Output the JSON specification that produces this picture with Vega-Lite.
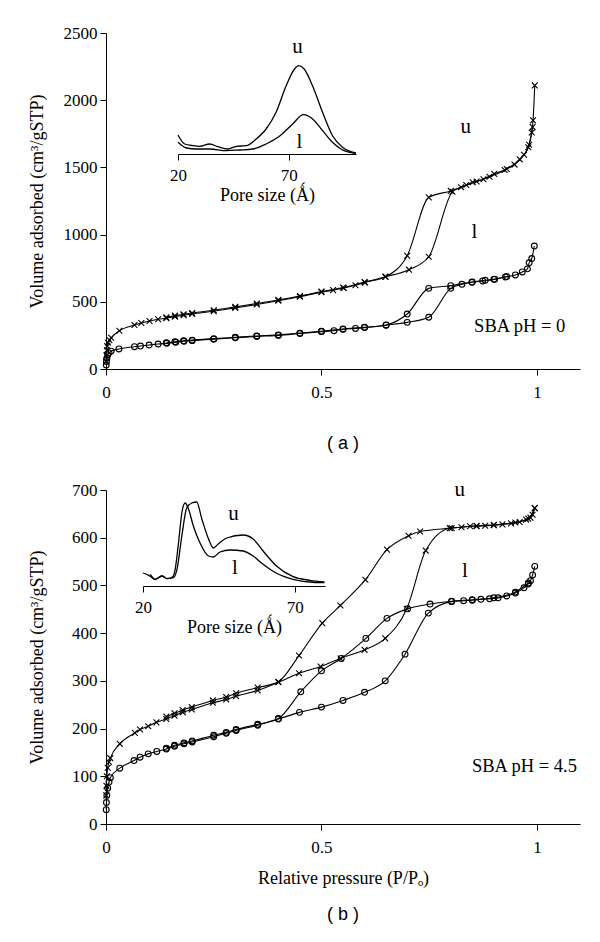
{
"$schema": "https://vega.github.io/schema/vega-lite/v6.json",
"background": "white",
"padding": {"left": 28, "top": 24, "right": 10, "bottom": 10},
"config": {
  "view": {"stroke": null},
  "font": "Liberation Serif",
  "axis": {"labelFont": "Liberation Serif", "labelFontSize": 17, "labelColor": "black", "titleFont": "Liberation Serif", "titleFontSize": 18, "titleFontWeight": "normal", "titleColor": "black", "domainColor": "black", "tickColor": "black", "grid": false, "tickSize": 6, "labelFlush": false, "labelPadding": 3}
},
"datasets": {
  "a_main": [
    {"s":"u","b":"ads","p":0.0005,"v":55},{"s":"u","b":"ads","p":0.001,"v":100},{"s":"u","b":"ads","p":0.002,"v":140},{"s":"u","b":"ads","p":0.003,"v":170},{"s":"u","b":"ads","p":0.005,"v":195},{"s":"u","b":"ads","p":0.008,"v":215},{"s":"u","b":"ads","p":0.012,"v":232},{"s":"u","b":"ads","p":0.031,"v":285},{"s":"u","b":"ads","p":0.066,"v":327},{"s":"u","b":"ads","p":0.082,"v":342},{"s":"u","b":"ads","p":0.101,"v":357},{"s":"u","b":"ads","p":0.121,"v":370},{"s":"u","b":"ads","p":0.14,"v":378},{"s":"u","b":"ads","p":0.16,"v":390},{"s":"u","b":"ads","p":0.18,"v":400},{"s":"u","b":"ads","p":0.2,"v":410},{"s":"u","b":"ads","p":0.25,"v":430},{"s":"u","b":"ads","p":0.3,"v":455},{"s":"u","b":"ads","p":0.35,"v":480},{"s":"u","b":"ads","p":0.4,"v":508},{"s":"u","b":"ads","p":0.45,"v":538},{"s":"u","b":"ads","p":0.5,"v":572},{"s":"u","b":"ads","p":0.527,"v":587},{"s":"u","b":"ads","p":0.552,"v":603},{"s":"u","b":"ads","p":0.579,"v":623},{"s":"u","b":"ads","p":0.601,"v":643},{"s":"u","b":"ads","p":0.648,"v":686},{"s":"u","b":"ads","p":0.703,"v":739},{"s":"u","b":"ads","p":0.749,"v":835},{"s":"u","b":"ads","p":0.804,"v":1319},{"s":"u","b":"ads","p":0.824,"v":1352},{"s":"u","b":"ads","p":0.836,"v":1369},{"s":"u","b":"ads","p":0.851,"v":1389},{"s":"u","b":"ads","p":0.876,"v":1412},{"s":"u","b":"ads","p":0.901,"v":1452},{"s":"u","b":"ads","p":0.925,"v":1481},{"s":"u","b":"ads","p":0.948,"v":1521},{"s":"u","b":"ads","p":0.97,"v":1594},{"s":"u","b":"ads","p":0.982,"v":1668},{"s":"u","b":"ads","p":0.988,"v":1760},{"s":"u","b":"ads","p":0.991,"v":1850},{"s":"u","b":"ads","p":0.995,"v":2110},
    {"s":"u","b":"des","p":0.14,"v":384},{"s":"u","b":"des","p":0.16,"v":397},{"s":"u","b":"des","p":0.18,"v":407},{"s":"u","b":"des","p":0.2,"v":417},{"s":"u","b":"des","p":0.25,"v":437},{"s":"u","b":"des","p":0.3,"v":462},{"s":"u","b":"des","p":0.35,"v":487},{"s":"u","b":"des","p":0.4,"v":514},{"s":"u","b":"des","p":0.45,"v":543},{"s":"u","b":"des","p":0.5,"v":576},{"s":"u","b":"des","p":0.55,"v":606},{"s":"u","b":"des","p":0.6,"v":647},{"s":"u","b":"des","p":0.649,"v":687},{"s":"u","b":"des","p":0.699,"v":843},{"s":"u","b":"des","p":0.749,"v":1277},{"s":"u","b":"des","p":0.8,"v":1325},{"s":"u","b":"des","p":0.86,"v":1395},{"s":"u","b":"des","p":0.89,"v":1430},{"s":"u","b":"des","p":0.93,"v":1488},{"s":"u","b":"des","p":0.96,"v":1560},{"s":"u","b":"des","p":0.98,"v":1650},{"s":"u","b":"des","p":0.99,"v":1800},
    {"s":"l","b":"ads","p":0.0005,"v":30},{"s":"l","b":"ads","p":0.001,"v":55},{"s":"l","b":"ads","p":0.002,"v":80},{"s":"l","b":"ads","p":0.004,"v":105},{"s":"l","b":"ads","p":0.007,"v":120},{"s":"l","b":"ads","p":0.012,"v":133},{"s":"l","b":"ads","p":0.03,"v":149},{"s":"l","b":"ads","p":0.066,"v":166},{"s":"l","b":"ads","p":0.08,"v":171},{"s":"l","b":"ads","p":0.1,"v":178},{"s":"l","b":"ads","p":0.121,"v":186},{"s":"l","b":"ads","p":0.141,"v":191},{"s":"l","b":"ads","p":0.162,"v":199},{"s":"l","b":"ads","p":0.181,"v":206},{"s":"l","b":"ads","p":0.2,"v":211},{"s":"l","b":"ads","p":0.25,"v":222},{"s":"l","b":"ads","p":0.3,"v":232},{"s":"l","b":"ads","p":0.35,"v":242},{"s":"l","b":"ads","p":0.4,"v":250},{"s":"l","b":"ads","p":0.45,"v":264},{"s":"l","b":"ads","p":0.5,"v":278},{"s":"l","b":"ads","p":0.529,"v":285},{"s":"l","b":"ads","p":0.55,"v":295},{"s":"l","b":"ads","p":0.579,"v":302},{"s":"l","b":"ads","p":0.6,"v":308},{"s":"l","b":"ads","p":0.65,"v":326},{"s":"l","b":"ads","p":0.699,"v":347},{"s":"l","b":"ads","p":0.749,"v":385},{"s":"l","b":"ads","p":0.8,"v":600},{"s":"l","b":"ads","p":0.826,"v":630},{"s":"l","b":"ads","p":0.849,"v":645},{"s":"l","b":"ads","p":0.874,"v":655},{"s":"l","b":"ads","p":0.902,"v":668},{"s":"l","b":"ads","p":0.927,"v":685},{"s":"l","b":"ads","p":0.95,"v":700},{"s":"l","b":"ads","p":0.966,"v":722},{"s":"l","b":"ads","p":0.978,"v":745},{"s":"l","b":"ads","p":0.982,"v":790},{"s":"l","b":"ads","p":0.988,"v":822},{"s":"l","b":"ads","p":0.994,"v":915},
    {"s":"l","b":"des","p":0.14,"v":195},{"s":"l","b":"des","p":0.16,"v":203},{"s":"l","b":"des","p":0.18,"v":210},{"s":"l","b":"des","p":0.2,"v":215},{"s":"l","b":"des","p":0.25,"v":226},{"s":"l","b":"des","p":0.3,"v":236},{"s":"l","b":"des","p":0.35,"v":246},{"s":"l","b":"des","p":0.4,"v":254},{"s":"l","b":"des","p":0.45,"v":267},{"s":"l","b":"des","p":0.5,"v":281},{"s":"l","b":"des","p":0.55,"v":298},{"s":"l","b":"des","p":0.6,"v":311},{"s":"l","b":"des","p":0.65,"v":328},{"s":"l","b":"des","p":0.699,"v":409},{"s":"l","b":"des","p":0.749,"v":600},{"s":"l","b":"des","p":0.8,"v":620},{"s":"l","b":"des","p":0.85,"v":647},{"s":"l","b":"des","p":0.88,"v":660},{"s":"l","b":"des","p":0.9,"v":667},{"s":"l","b":"des","p":0.93,"v":688}
  ],
  "b_main": [
    {"s":"u","b":"ads","p":0.0005,"v":60},{"s":"u","b":"ads","p":0.001,"v":80},{"s":"u","b":"ads","p":0.002,"v":100},{"s":"u","b":"ads","p":0.004,"v":118},{"s":"u","b":"ads","p":0.007,"v":130},{"s":"u","b":"ads","p":0.01,"v":138},{"s":"u","b":"ads","p":0.032,"v":168},{"s":"u","b":"ads","p":0.067,"v":191},{"s":"u","b":"ads","p":0.079,"v":198},{"s":"u","b":"ads","p":0.098,"v":205},{"s":"u","b":"ads","p":0.117,"v":213},{"s":"u","b":"ads","p":0.14,"v":220},{"s":"u","b":"ads","p":0.159,"v":227},{"s":"u","b":"ads","p":0.178,"v":234},{"s":"u","b":"ads","p":0.199,"v":240},{"s":"u","b":"ads","p":0.248,"v":254},{"s":"u","b":"ads","p":0.279,"v":261},{"s":"u","b":"ads","p":0.302,"v":268},{"s":"u","b":"ads","p":0.352,"v":280},{"s":"u","b":"ads","p":0.4,"v":297},{"s":"u","b":"ads","p":0.448,"v":316},{"s":"u","b":"ads","p":0.498,"v":330},{"s":"u","b":"ads","p":0.544,"v":347},{"s":"u","b":"ads","p":0.6,"v":365},{"s":"u","b":"ads","p":0.648,"v":389},{"s":"u","b":"ads","p":0.698,"v":451},{"s":"u","b":"ads","p":0.742,"v":573},{"s":"u","b":"ads","p":0.798,"v":620},{"s":"u","b":"ads","p":0.825,"v":622},{"s":"u","b":"ads","p":0.845,"v":624},{"s":"u","b":"ads","p":0.86,"v":624},{"s":"u","b":"ads","p":0.88,"v":625},{"s":"u","b":"ads","p":0.9,"v":626},{"s":"u","b":"ads","p":0.92,"v":628},{"s":"u","b":"ads","p":0.94,"v":630},{"s":"u","b":"ads","p":0.96,"v":633},{"s":"u","b":"ads","p":0.975,"v":638},{"s":"u","b":"ads","p":0.985,"v":642},{"s":"u","b":"ads","p":0.99,"v":648},{"s":"u","b":"ads","p":0.995,"v":662},
    {"s":"u","b":"des","p":0.14,"v":225},{"s":"u","b":"des","p":0.159,"v":232},{"s":"u","b":"des","p":0.178,"v":239},{"s":"u","b":"des","p":0.199,"v":245},{"s":"u","b":"des","p":0.248,"v":259},{"s":"u","b":"des","p":0.279,"v":266},{"s":"u","b":"des","p":0.302,"v":274},{"s":"u","b":"des","p":0.352,"v":286},{"s":"u","b":"des","p":0.4,"v":298},{"s":"u","b":"des","p":0.448,"v":353},{"s":"u","b":"des","p":0.502,"v":421},{"s":"u","b":"des","p":0.544,"v":458},{"s":"u","b":"des","p":0.602,"v":512},{"s":"u","b":"des","p":0.652,"v":575},{"s":"u","b":"des","p":0.702,"v":604},{"s":"u","b":"des","p":0.729,"v":613},{"s":"u","b":"des","p":0.802,"v":620},{"s":"u","b":"des","p":0.86,"v":625},{"s":"u","b":"des","p":0.9,"v":627},{"s":"u","b":"des","p":0.95,"v":632},{"s":"u","b":"des","p":0.98,"v":640},{"s":"u","b":"des","p":0.995,"v":662},
    {"s":"l","b":"ads","p":0.0005,"v":30},{"s":"l","b":"ads","p":0.001,"v":45},{"s":"l","b":"ads","p":0.002,"v":60},{"s":"l","b":"ads","p":0.004,"v":75},{"s":"l","b":"ads","p":0.007,"v":88},{"s":"l","b":"ads","p":0.01,"v":97},{"s":"l","b":"ads","p":0.032,"v":117},{"s":"l","b":"ads","p":0.065,"v":133},{"s":"l","b":"ads","p":0.079,"v":140},{"s":"l","b":"ads","p":0.098,"v":147},{"s":"l","b":"ads","p":0.118,"v":152},{"s":"l","b":"ads","p":0.14,"v":157},{"s":"l","b":"ads","p":0.159,"v":163},{"s":"l","b":"ads","p":0.181,"v":168},{"s":"l","b":"ads","p":0.2,"v":172},{"s":"l","b":"ads","p":0.25,"v":183},{"s":"l","b":"ads","p":0.279,"v":190},{"s":"l","b":"ads","p":0.302,"v":196},{"s":"l","b":"ads","p":0.352,"v":207},{"s":"l","b":"ads","p":0.4,"v":220},{"s":"l","b":"ads","p":0.449,"v":234},{"s":"l","b":"ads","p":0.5,"v":245},{"s":"l","b":"ads","p":0.55,"v":259},{"s":"l","b":"ads","p":0.6,"v":276},{"s":"l","b":"ads","p":0.648,"v":300},{"s":"l","b":"ads","p":0.694,"v":356},{"s":"l","b":"ads","p":0.748,"v":442},{"s":"l","b":"ads","p":0.802,"v":466},{"s":"l","b":"ads","p":0.83,"v":468},{"s":"l","b":"ads","p":0.85,"v":469},{"s":"l","b":"ads","p":0.87,"v":471},{"s":"l","b":"ads","p":0.89,"v":472},{"s":"l","b":"ads","p":0.91,"v":474},{"s":"l","b":"ads","p":0.93,"v":478},{"s":"l","b":"ads","p":0.95,"v":484},{"s":"l","b":"ads","p":0.97,"v":495},{"s":"l","b":"ads","p":0.98,"v":503},{"s":"l","b":"ads","p":0.985,"v":510},{"s":"l","b":"ads","p":0.99,"v":522},{"s":"l","b":"ads","p":0.995,"v":540},
    {"s":"l","b":"des","p":0.14,"v":159},{"s":"l","b":"des","p":0.159,"v":165},{"s":"l","b":"des","p":0.181,"v":170},{"s":"l","b":"des","p":0.2,"v":174},{"s":"l","b":"des","p":0.25,"v":186},{"s":"l","b":"des","p":0.279,"v":192},{"s":"l","b":"des","p":0.302,"v":198},{"s":"l","b":"des","p":0.352,"v":209},{"s":"l","b":"des","p":0.4,"v":221},{"s":"l","b":"des","p":0.452,"v":277},{"s":"l","b":"des","p":0.5,"v":321},{"s":"l","b":"des","p":0.546,"v":347},{"s":"l","b":"des","p":0.603,"v":389},{"s":"l","b":"des","p":0.652,"v":431},{"s":"l","b":"des","p":0.7,"v":451},{"s":"l","b":"des","p":0.752,"v":461},{"s":"l","b":"des","p":0.802,"v":467},{"s":"l","b":"des","p":0.85,"v":470},{"s":"l","b":"des","p":0.9,"v":474},{"s":"l","b":"des","p":0.95,"v":486},{"s":"l","b":"des","p":0.98,"v":505}
  ],
  "a_inset": [
    {"s":"u","d":20,"h":19},{"s":"u","d":23,"h":10},{"s":"u","d":26.8,"h":8.3},{"s":"u","d":29.8,"h":7.7},{"s":"u","d":34.3,"h":10},{"s":"u","d":38,"h":7.3},{"s":"u","d":42.5,"h":5},{"s":"u","d":46.3,"h":7.7},{"s":"u","d":50.8,"h":8.3},{"s":"u","d":55.3,"h":15},{"s":"u","d":59.8,"h":25},{"s":"u","d":64.3,"h":41.7},{"s":"u","d":68.8,"h":68},{"s":"u","d":72.6,"h":85},{"s":"u","d":74.5,"h":88.3},{"s":"u","d":77,"h":85},{"s":"u","d":80.8,"h":68},{"s":"u","d":85.3,"h":41.7},{"s":"u","d":89.8,"h":18.3},{"s":"u","d":94.3,"h":6.7},{"s":"u","d":100.3,"h":1},
    {"s":"l","d":20,"h":11.7},{"s":"l","d":23.8,"h":6},{"s":"l","d":28.3,"h":5},{"s":"l","d":34.3,"h":5},{"s":"l","d":41.8,"h":3.3},{"s":"l","d":47.8,"h":4},{"s":"l","d":53.8,"h":5},{"s":"l","d":59.8,"h":10},{"s":"l","d":65.8,"h":17.7},{"s":"l","d":71.8,"h":30},{"s":"l","d":76.6,"h":39.3},{"s":"l","d":80.8,"h":35},{"s":"l","d":85.3,"h":23.3},{"s":"l","d":89.8,"h":11.7},{"s":"l","d":95,"h":3.3},{"s":"l","d":100.3,"h":0.7}
  ],
  "b_inset": [
    {"s":"l","d":20,"h":13},{"s":"l","d":21.9,"h":10.7},{"s":"l","d":24,"h":6.7},{"s":"l","d":26.2,"h":10},{"s":"l","d":27.9,"h":7.3},{"s":"l","d":29.8,"h":9.3},{"s":"l","d":30.6,"h":16.7},{"s":"l","d":31.7,"h":43},{"s":"l","d":32.8,"h":73},{"s":"l","d":33.9,"h":83},{"s":"l","d":35,"h":77},{"s":"l","d":36.6,"h":60},{"s":"l","d":38.8,"h":43},{"s":"l","d":41.6,"h":30},{"s":"l","d":43.2,"h":29},{"s":"l","d":45.4,"h":34},{"s":"l","d":48.7,"h":36},{"s":"l","d":53,"h":35},{"s":"l","d":56.3,"h":30},{"s":"l","d":59.6,"h":21.7},{"s":"l","d":64,"h":12.7},{"s":"l","d":69.5,"h":6.7},{"s":"l","d":75,"h":4},{"s":"l","d":79.8,"h":3.3},
    {"s":"u","d":22.4,"h":11.7},{"s":"u","d":24,"h":6.7},{"s":"u","d":26.2,"h":10},{"s":"u","d":27.9,"h":7.3},{"s":"u","d":30,"h":8.3},{"s":"u","d":31.2,"h":16.7},{"s":"u","d":32.8,"h":50},{"s":"u","d":34.4,"h":78},{"s":"u","d":36.1,"h":83},{"s":"u","d":37.7,"h":84},{"s":"u","d":39.4,"h":67},{"s":"u","d":41.6,"h":47},{"s":"u","d":43.2,"h":38},{"s":"u","d":44.8,"h":42},{"s":"u","d":47.6,"h":48},{"s":"u","d":53,"h":51},{"s":"u","d":56.3,"h":47},{"s":"u","d":59.6,"h":35},{"s":"u","d":64,"h":20},{"s":"u","d":69.5,"h":9.3},{"s":"u","d":75,"h":5.7},{"s":"u","d":79.8,"h":4}
  ]
},
"concat": [
  {
    "width": 474, "height": 336,
    "title": {"text": "( a )", "orient": "bottom", "frame": "group", "font": "Liberation Sans", "fontSize": 18, "fontWeight": "normal", "color": "black", "offset": 35},
    "layer": [
      {
        "data": {"name": "a_main"},
        "encoding": {
          "x": {"field": "p", "type": "quantitative", "scale": {"domain": [0, 1.1], "nice": false, "zero": false}, "axis": {"values": [0, 0.5, 1], "format": "~g", "title": null, "labelPadding": 9}},
          "y": {"field": "v", "type": "quantitative", "scale": {"domain": [0, 2500], "nice": false}, "axis": {"values": [0, 500, 1000, 1500, 2000, 2500], "format": "d", "title": "Volume adsorbed (cm³/gSTP)", "titlePadding": 17}}
        },
        "layer": [
          {"mark": {"type": "line", "interpolate": "monotone", "color": "black", "strokeWidth": 1.1}, "encoding": {"detail": [{"field": "s"}, {"field": "b"}]}},
          {"mark": {"type": "point", "filled": false, "color": "black", "strokeWidth": 1.1, "size": 34, "opacity": 1}, "encoding": {"shape": {"field": "s", "type": "nominal", "scale": {"domain": ["u", "l"], "range": ["M-1,-1L1,1M-1,1L1,-1", "circle"]}, "legend": null}}},
          {
            "data": {"values": [{"p": 0.835, "v": 1798, "t": "u"}, {"p": 0.855, "v": 1017, "t": "l"}]},
            "mark": {"type": "text", "fontSize": 21, "color": "black", "font": "Liberation Serif"},
            "encoding": {"text": {"field": "t"}}
          },
          {
            "data": {"values": [{"p": 0.96, "v": 322, "t": "SBA pH = 0"}]},
            "mark": {"type": "text", "fontSize": 18.5, "color": "black", "font": "Liberation Serif"},
            "encoding": {"text": {"field": "t"}}
          }
        ]
      },
      {
        "layer": [
          {
            "data": {"name": "a_inset"},
            "mark": {"type": "line", "interpolate": "monotone", "color": "black", "strokeWidth": 1.3},
            "encoding": {
              "x": {"field": "d", "type": "quantitative", "scale": {"domain": [20, 100.4], "range": [72, 250], "nice": false, "zero": false}, "axis": {"orient": "bottom", "offset": -215, "values": [20, 70], "format": "d", "title": "Pore size (Ǻ)", "labelPadding": 7, "titlePadding": 3}},
              "y": {"field": "h", "type": "quantitative", "scale": {"domain": [0, 121], "range": [121, 0], "nice": false}, "axis": null},
              "detail": {"field": "s"}
            }
          },
          {
            "data": {"values": [{"d": 74, "h": 107, "t": "u"}, {"d": 74.8, "h": 12, "t": "l"}]},
            "mark": {"type": "text", "fontSize": 21, "color": "black", "font": "Liberation Serif"},
            "encoding": {"x": {"field": "d", "type": "quantitative"}, "y": {"field": "h", "type": "quantitative"}, "text": {"field": "t"}}
          }
        ]
      }
    ],
    "resolve": {"scale": {"x": "independent", "y": "independent"}, "axis": {"x": "independent", "y": "independent"}}
  },
  {
    "width": 474, "height": 334,
    "title": {"text": "( b )", "orient": "bottom", "frame": "group", "font": "Liberation Sans", "fontSize": 18, "fontWeight": "normal", "color": "black", "offset": 19},
    "layer": [
      {
        "data": {"name": "b_main"},
        "encoding": {
          "x": {"field": "p", "type": "quantitative", "scale": {"domain": [0, 1.1], "nice": false, "zero": false}, "axis": {"values": [0, 0.5, 1], "format": "~g", "title": "Relative pressure (P/Pₒ)", "labelPadding": 9, "titlePadding": 14}},
          "y": {"field": "v", "type": "quantitative", "scale": {"domain": [0, 700], "nice": false}, "axis": {"values": [0, 100, 200, 300, 400, 500, 600, 700], "format": "d", "title": "Volume adsorbed (cm³/gSTP)", "titlePadding": 25}}
        },
        "layer": [
          {"mark": {"type": "line", "interpolate": "monotone", "color": "black", "strokeWidth": 1.1}, "encoding": {"detail": [{"field": "s"}, {"field": "b"}]}},
          {"mark": {"type": "point", "filled": false, "color": "black", "strokeWidth": 1.1, "size": 34, "opacity": 1}, "encoding": {"shape": {"field": "s", "type": "nominal", "scale": {"domain": ["u", "l"], "range": ["M-1,-1L1,1M-1,1L1,-1", "circle"]}, "legend": null}}},
          {
            "data": {"values": [{"p": 0.821, "v": 699, "t": "u"}, {"p": 0.833, "v": 531, "t": "l"}]},
            "mark": {"type": "text", "fontSize": 21, "color": "black", "font": "Liberation Serif"},
            "encoding": {"text": {"field": "t"}}
          },
          {
            "data": {"values": [{"p": 0.971, "v": 122, "t": "SBA pH = 4.5"}]},
            "mark": {"type": "text", "fontSize": 18.5, "color": "black", "font": "Liberation Serif"},
            "encoding": {"text": {"field": "t"}}
          }
        ]
      },
      {
        "layer": [
          {
            "data": {"name": "b_inset"},
            "mark": {"type": "line", "interpolate": "monotone", "color": "black", "strokeWidth": 1.3},
            "encoding": {
              "x": {"field": "d", "type": "quantitative", "scale": {"domain": [20, 80], "range": [37, 219], "nice": false, "zero": false}, "axis": {"orient": "bottom", "offset": -238, "values": [20, 70], "format": "d", "title": "Pore size (Ǻ)", "labelPadding": 7, "titlePadding": 3}},
              "y": {"field": "h", "type": "quantitative", "scale": {"domain": [0, 96], "range": [96, 0], "nice": false}, "axis": null},
              "detail": {"field": "s"}
            }
          },
          {
            "data": {"values": [{"d": 49.8, "h": 72, "t": "u"}, {"d": 50.3, "h": 18, "t": "l"}]},
            "mark": {"type": "text", "fontSize": 21, "color": "black", "font": "Liberation Serif"},
            "encoding": {"x": {"field": "d", "type": "quantitative"}, "y": {"field": "h", "type": "quantitative"}, "text": {"field": "t"}}
          }
        ]
      }
    ],
    "resolve": {"scale": {"x": "independent", "y": "independent"}, "axis": {"x": "independent", "y": "independent"}}
  }
],
"columns": 1,
"align": "none",
"spacing": 26
}
